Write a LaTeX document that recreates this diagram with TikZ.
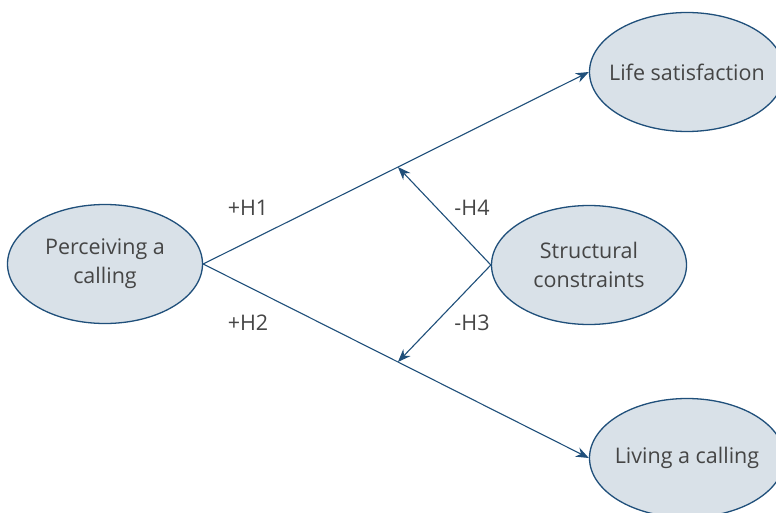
\documentclass[tikz,border=0pt]{standalone}
\usepackage{fontspec}
\setmainfont{Open Sans}
\usetikzlibrary{arrows.meta,shapes.geometric}
\definecolor{linkblue}{HTML}{1F4F7A}
\definecolor{bubble}{HTML}{D9E1E8}
\definecolor{labelgray}{HTML}{454545}

\begin{document}
\begin{tikzpicture}[x=1pt,y=-1pt,->,>={Stealth[length=13pt,width=10pt]},line width=1.1pt,draw=linkblue]
  \tikzstyle{every construct}=[ellipse,fill=bubble,draw=linkblue,line width=1.3pt,text=labelgray,
    minimum width=195pt,minimum height=119pt,inner sep=0pt,align=center,font=\fontsize{21.5}{29}\selectfont]
  \tikzstyle{hyp}=[text=labelgray,font=\fontsize{21.5}{26}\selectfont]
  \useasboundingbox (0,0) rectangle (776,513);

  \node[every construct] (P) at (105,264) {Perceiving a\\calling};
  \node[every construct] (S) at (589,265) {Structural\\constraints};
  \node[every construct] (L) at (687,72) {\makebox[110pt]{Life satisfaction}};
  \node[every construct] (V) at (687,458) {\makebox[110pt]{Living a calling}};

  \path (P.east) edge coordinate[pos=0.505] (m1) (L.west)
	(P.east) edge coordinate[pos=0.505] (m2) (V.west)
	(S.west) edge (m1)
	(S.west) edge (m2);

  \node[hyp] (h1) at (248,208) {+H1};
  \node[hyp] (h2) at (248,323) {+H2};
  \node[hyp] (h4) at (472,208) {-H4};
  \node[hyp] (h3) at (472,323) {-H3};
\end{tikzpicture}
\end{document}
